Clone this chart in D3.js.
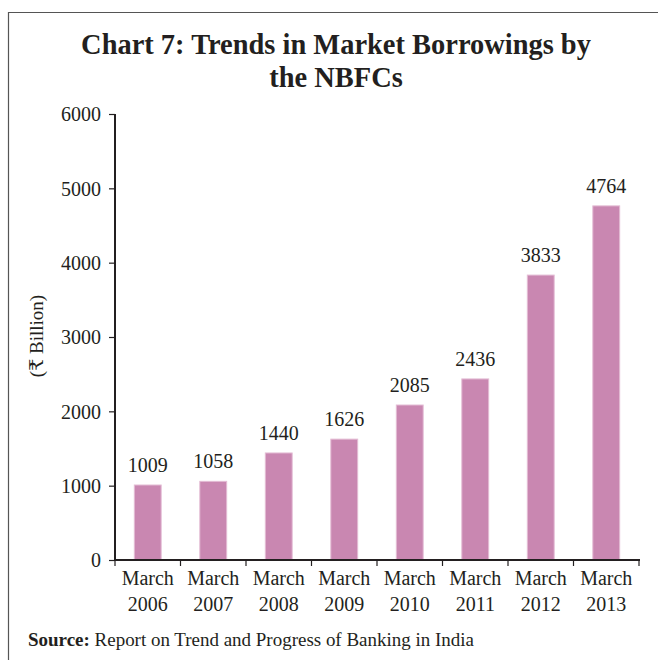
<!DOCTYPE html>
<html>
<head>
<meta charset="utf-8">
<script src="https://cdn.jsdelivr.net/npm/d3@7"></script>
<style>
  html, body { margin: 0; padding: 0; background: #fff; }
  svg { display: block; }
</style>
</head>
<body>
<svg id="chart" width="658" height="660"></svg>
<script>
// Market borrowings of NBFCs, ₹ billion, end-March
const categories = ["March 2006", "March 2007", "March 2008", "March 2009",
                    "March 2010", "March 2011", "March 2012", "March 2013"];
const borrowings = [1009, 1058, 1440, 1626, 2085, 2436, 3833, 4764];
const yTicks = [0, 1000, 2000, 3000, 4000, 5000, 6000];
const titleLines = ["Chart 7: Trends in Market Borrowings by", "the NBFCs"];
const yAxisTitle = "(₹ Billion)";
const sourceLabel = "Source:";
const sourceText = " Report on Trend and Progress of Banking in India";

const svg = d3.select("#chart");
const ink = "#231f20";
const serif = "'Liberation Serif', 'DejaVu Serif', serif";

// Frame: top and left rules
svg.append("line").attr("x1", 8.5).attr("x2", 658).attr("y1", 12.5).attr("y2", 12.5)
  .attr("stroke", "#555").attr("stroke-width", 1.2);
svg.append("line").attr("x1", 8.5).attr("x2", 8.5).attr("y1", 12).attr("y2", 660)
  .attr("stroke", "#555").attr("stroke-width", 1.2);

// Title, fitted to the line width
const title = svg.append("g").attr("font-family", serif).attr("font-weight", "bold")
  .attr("fill", ink).attr("text-anchor", "middle");
const t1 = title.append("text").attr("x", 336).attr("y", 54).attr("font-size", 28).text(titleLines[0]);
const w = t1.node().getComputedTextLength();
const fs = 28 * 510 / w;
t1.attr("font-size", fs);
title.append("text").attr("x", 336).attr("y", 87).attr("font-size", fs).text(titleLines[1]);

// Scales
const plot = { left: 115, right: 639, top: 114, bottom: 560 };
const x = d3.scaleBand().domain(categories).range([plot.left, plot.right]).padding(0);
const y = d3.scaleLinear().domain([0, 6000]).range([plot.bottom, plot.top]);
const barW = x.bandwidth() * 0.41;

// Bars
svg.append("g").selectAll("rect").data(borrowings).join("rect")
  .attr("x", (d, i) => x(categories[i]) + (x.bandwidth() - barW) / 2)
  .attr("y", d => y(d))
  .attr("width", barW)
  .attr("height", d => y(0) - y(d))
  .attr("fill", "#c987b1")
  .attr("stroke", "#e3bcd4")
  .attr("stroke-width", 1);

// Value labels
svg.append("g").attr("font-family", serif).attr("font-size", 20).attr("fill", ink)
  .attr("text-anchor", "middle")
  .selectAll("text").data(borrowings).join("text")
  .attr("x", (d, i) => x(categories[i]) + x.bandwidth() / 2)
  .attr("y", d => y(d) - 13)
  .text(d => d);

// Y axis
const yAxis = svg.append("g").attr("transform", `translate(${plot.left},0)`)
  .call(d3.axisLeft(y).tickValues(yTicks).tickSize(6).tickPadding(8).tickFormat(d3.format("d")));
yAxis.select(".domain").attr("stroke", ink).attr("stroke-width", 2)
  .attr("d", `M0,${plot.top}V${plot.bottom}`);
yAxis.selectAll(".tick line").attr("stroke", ink).attr("stroke-width", 1.2);
yAxis.selectAll(".tick text").attr("font-family", serif).attr("font-size", 20).attr("fill", ink)
  .attr("dy", "0.34em");

// X axis with ticks at band boundaries
const xAxis = svg.append("g").attr("transform", `translate(0,${plot.bottom})`);
xAxis.append("line").attr("x1", plot.left - 1).attr("x2", plot.right + 1)
  .attr("stroke", ink).attr("stroke-width", 2);
const bounds = categories.map(c => x(c)).concat([plot.right]);
xAxis.selectAll("line.tk").data(bounds).join("line").attr("class", "tk")
  .attr("x1", d => d).attr("x2", d => d).attr("y1", 0).attr("y2", 6)
  .attr("stroke", ink).attr("stroke-width", 1.2);
const xl = xAxis.selectAll("text.cat").data(categories).join("text").attr("class", "cat")
  .attr("font-family", serif).attr("font-size", 20).attr("fill", ink)
  .attr("text-anchor", "middle")
  .attr("transform", d => `translate(${x(d) + x.bandwidth() / 2},0)`);
xl.append("tspan").attr("x", 0).attr("y", 25).text(d => d.split(" ")[0]);
xl.append("tspan").attr("x", 0).attr("y", 51).text(d => d.split(" ")[1]);

// Y axis title
svg.append("text").attr("transform", "translate(43,336) rotate(-90)")
  .attr("text-anchor", "middle").attr("font-family", serif).attr("font-size", 19)
  .attr("fill", ink).text(yAxisTitle);

// Source note, sized to span the line
const src = svg.append("text").attr("x", 28).attr("y", 646)
  .attr("font-family", serif).attr("font-size", 16).attr("fill", ink);
src.append("tspan").attr("font-weight", "bold").text(sourceLabel);
src.append("tspan").text(sourceText);
const sw = src.node().getComputedTextLength();
src.attr("font-size", 16 * 446 / sw);
</script>
</body>
</html>
